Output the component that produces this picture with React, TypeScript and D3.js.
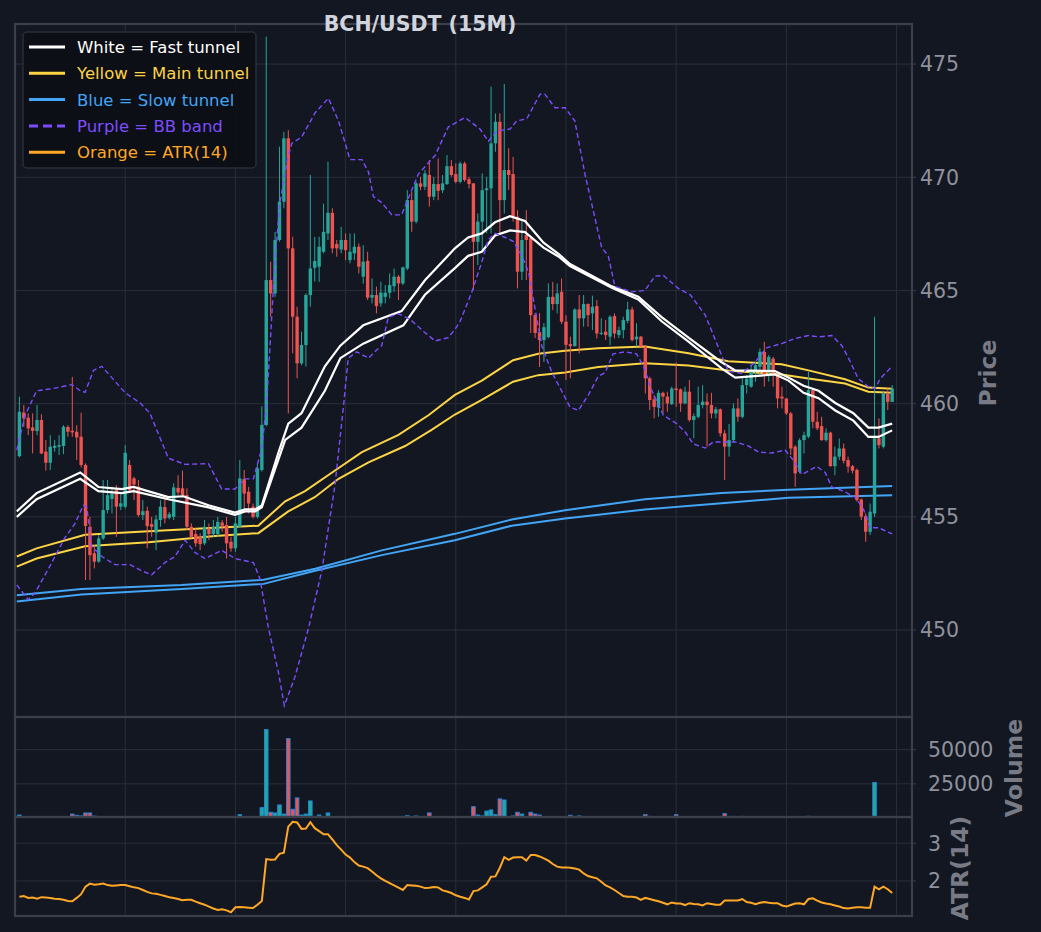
import React from "react";
import * as d3 from "d3";

// ---------- DATA ----------
const opens = [457.68,459.61,459.38,458.95,458.79,459.28,457.88,457.39,458.05,458.10,458.13,458.97,458.80,458.76,458.54,457.29,454.56,453.39,453.02,454.05,455.30,455.79,456.18,455.45,455.45,457.29,456.70,456.33,455.08,455.27,454.68,454.30,454.86,455.43,454.96,455.00,456.28,456.26,455.96,454.56,454.24,454.12,453.83,454.49,454.24,454.24,454.75,454.64,453.90,453.61,454.56,456.67,456.11,455.45,455.00,457.07,459.06,465.46,464.87,467.23,468.92,471.72,466.86,463.84,461.78,462.59,464.80,466.00,466.05,466.71,467.52,468.43,467.05,466.81,467.23,466.34,466.64,466.93,465.61,466.31,464.68,464.80,464.43,464.72,464.90,465.19,465.61,465.31,465.97,468.99,468.04,469.73,469.58,470.10,469.14,469.70,469.43,469.70,470.49,470.14,469.80,470.61,469.91,469.73,467.15,468.04,469.43,469.51,471.50,472.45,468.99,470.32,470.14,468.26,465.83,467.45,467.30,463.91,463.16,462.81,462.94,464.72,464.40,464.94,463.62,462.63,462.54,464.16,463.77,464.40,463.99,464.31,463.10,463.18,462.96,463.87,463.03,463.25,463.66,464.16,462.84,462.96,462.52,461.12,460.19,459.83,460.48,460.31,459.98,460.67,460.63,460.01,460.53,459.28,459.42,459.94,460.09,459.94,459.57,459.75,458.69,458.10,458.39,459.79,459.42,460.82,460.75,461.41,461.63,462.29,461.41,461.99,461.26,460.31,460.23,459.57,458.10,456.99,458.39,458.54,460.60,459.20,459.01,458.39,458.72,457.24,457.66,458.02,457.51,457.24,457.07,455.77,455.03,454.34,455.15,458.47,458.10,460.45,460.08];
const highs = [460.31,459.94,459.57,459.57,459.94,459.53,458.39,458.61,458.39,458.61,459.05,459.05,461.18,459.05,459.60,457.36,455.00,453.75,454.20,456.63,456.63,456.33,456.40,456.00,458.17,457.51,456.77,456.63,455.74,455.45,455.00,455.08,455.74,455.89,455.22,456.48,456.84,457.04,456.26,454.71,454.49,454.27,454.86,454.71,454.86,455.00,454.86,455.00,454.12,455.00,457.51,457.07,456.33,455.59,457.36,459.89,476.21,466.27,467.59,471.35,472.01,472.08,467.37,464.28,463.18,464.87,470.10,467.37,467.37,468.84,470.69,468.63,467.23,467.81,467.52,467.52,467.52,467.08,467.00,466.71,465.53,465.17,465.38,465.24,465.75,465.97,465.68,466.05,469.43,469.36,469.80,470.02,470.32,470.76,470.02,470.83,470.10,470.98,470.76,470.61,470.69,470.69,470.02,469.73,468.40,470.17,470.02,474.00,472.82,472.82,474.12,471.28,470.90,468.55,468.11,468.55,467.37,464.00,464.00,463.56,465.31,465.38,465.31,465.53,463.91,462.96,464.21,464.80,464.80,464.43,464.77,464.58,463.77,463.69,463.91,463.99,463.40,463.84,464.50,464.28,463.55,462.99,462.59,461.19,460.38,460.60,460.53,460.53,460.75,461.82,460.67,460.75,461.04,459.57,460.75,460.82,460.45,460.48,459.86,459.79,458.84,459.10,460.01,460.23,461.19,461.27,461.70,461.85,462.44,462.73,462.15,462.07,461.34,460.75,460.23,459.64,458.17,458.47,458.76,461.41,460.67,459.64,459.42,458.91,458.76,458.10,458.46,458.24,457.66,457.29,457.14,455.81,455.15,455.59,463.84,459.35,460.53,460.67,460.82];
const lows = [457.63,458.98,458.61,457.80,458.61,457.77,457.04,457.07,457.88,457.73,457.77,458.54,458.54,457.51,457.18,452.21,452.21,452.72,452.97,453.98,455.15,455.15,454.12,455.30,455.37,456.11,455.74,455.00,454.86,453.61,454.12,453.53,454.56,454.71,454.89,454.86,455.96,455.89,454.42,454.05,453.68,453.53,453.75,453.97,454.12,454.12,454.34,453.16,453.46,453.46,454.56,455.30,455.15,454.93,454.93,457.00,459.00,463.84,464.72,467.16,468.63,459.57,462.22,461.12,461.70,461.63,464.28,465.40,465.38,466.64,467.23,466.64,466.49,466.64,466.34,466.20,466.34,465.75,465.30,464.58,464.43,463.99,464.28,464.43,464.65,464.94,464.58,465.24,465.90,467.59,467.96,469.43,469.43,468.70,468.99,468.99,469.30,469.66,470.02,469.73,469.73,469.80,469.51,465.02,466.12,466.78,467.52,467.52,471.13,467.52,468.40,469.44,468.04,465.09,465.46,465.46,463.12,462.90,461.62,461.84,462.88,464.13,463.99,463.52,461.05,461.12,462.52,462.22,463.40,463.40,463.25,462.88,463.03,462.81,462.59,462.88,462.90,462.88,463.55,462.74,462.52,462.52,460.45,459.72,459.35,459.42,459.57,459.64,459.94,459.86,459.64,459.98,459.20,458.47,459.35,459.79,458.10,459.35,459.35,458.54,456.63,457.66,458.32,459.20,459.35,460.45,460.70,460.97,461.19,460.75,460.97,460.75,459.79,459.79,459.50,457.73,456.33,456.92,457.80,458.47,458.91,458.83,458.36,458.32,457.22,456.84,457.51,457.36,456.95,456.92,455.67,454.86,453.90,454.20,455.00,458.02,458.02,459.72,460.08];
const closes = [459.64,459.35,458.91,458.80,459.28,457.80,457.39,458.10,458.14,458.17,458.98,458.76,458.73,458.51,457.29,454.60,453.31,453.02,454.05,455.30,455.96,456.04,455.45,455.60,457.83,456.18,456.43,455.08,455.25,454.59,454.56,454.89,455.45,454.93,455.12,456.30,456.08,455.96,454.56,454.12,453.83,453.80,454.56,454.24,454.56,454.78,454.61,453.83,453.61,454.71,456.70,456.03,455.59,455.00,457.14,459.06,465.46,464.87,467.23,468.92,471.72,466.86,463.84,461.78,462.59,464.80,465.97,466.30,466.93,467.59,468.43,466.86,466.86,467.23,466.78,466.71,466.93,466.05,466.27,464.68,464.80,464.31,464.91,464.90,465.24,465.61,465.31,466.02,468.99,468.04,469.73,469.58,470.17,469.14,469.70,469.40,469.73,470.49,470.10,469.80,470.61,469.88,469.70,467.15,468.04,469.43,469.51,471.50,472.45,468.99,470.32,470.10,468.26,465.83,467.23,467.23,463.91,463.12,462.81,463.38,464.71,464.40,464.87,463.62,462.60,462.54,464.16,463.77,464.40,463.91,464.28,463.10,463.13,463.03,463.84,463.10,463.25,463.69,464.16,462.81,462.96,462.52,461.12,460.16,459.86,460.48,460.31,460.01,460.67,460.60,460.01,460.53,459.28,459.45,459.94,460.09,459.94,459.57,459.75,458.69,458.10,458.39,459.79,459.42,460.82,461.10,461.41,461.70,462.29,461.26,462.07,461.26,460.23,460.23,459.57,458.02,456.92,458.39,458.61,460.60,459.20,458.91,458.39,458.72,457.24,457.66,458.02,457.48,457.22,457.04,455.74,455.01,454.34,455.23,458.47,458.17,460.45,460.08,460.67];
const volumes = [2200,900,800,900,600,1000,900,500,300,700,400,800,2900,2000,1500,3700,3700,1400,1000,900,1000,600,900,900,500,400,300,800,500,400,300,400,500,300,1000,700,200,600,200,300,200,250,300,200,250,300,200,500,200,300,2450,700,300,600,1000,7600,64700,4200,3700,9560,2900,58100,6400,14700,2200,2900,12500,700,2200,600,3700,1000,400,300,400,800,500,300,600,700,400,300,700,300,400,300,400,500,1700,600,1500,500,400,3700,700,400,300,400,600,300,400,300,500,8300,2200,1500,5100,5900,2450,14000,13200,600,1500,4200,2900,700,4200,2900,2200,800,500,400,300,500,1000,2000,700,1500,400,300,500,300,200,300,400,300,500,300,600,300,400,300,2450,1200,300,400,500,300,400,2450,900,900,400,800,300,400,600,300,400,300,3200,400,1200,300,1200,400,400,300,300,800,300,200,300,200,300,400,300,400,600,1300,400,300,300,400,800,300,200,300,400,300,500,800,800,600,26000,400,600,400,300];
const atr = [1.58,1.60,1.55,1.56,1.53,1.57,1.56,1.55,1.53,1.52,1.50,1.47,1.46,1.55,1.65,1.85,1.93,1.90,1.91,1.93,1.89,1.87,1.88,1.89,1.89,1.86,1.83,1.81,1.76,1.71,1.67,1.66,1.63,1.60,1.57,1.55,1.52,1.49,1.50,1.50,1.45,1.41,1.37,1.32,1.27,1.23,1.25,1.22,1.17,1.30,1.31,1.30,1.29,1.28,1.37,1.47,2.58,2.56,2.57,2.72,2.75,3.44,3.57,3.55,3.38,3.39,3.56,3.40,3.32,3.24,3.24,3.10,2.95,2.83,2.70,2.62,2.50,2.41,2.38,2.34,2.25,2.15,2.07,2.00,1.94,1.88,1.82,1.76,1.89,1.88,1.87,1.85,1.81,1.82,1.84,1.83,1.75,1.72,1.68,1.62,1.58,1.55,1.51,1.73,1.75,1.83,1.91,2.11,2.12,2.35,2.63,2.56,2.62,2.63,2.63,2.54,2.69,2.69,2.65,2.60,2.54,2.45,2.38,2.36,2.36,2.35,2.33,2.30,2.20,2.13,2.10,2.07,1.98,1.88,1.83,1.76,1.68,1.60,1.58,1.58,1.56,1.50,1.55,1.52,1.49,1.46,1.42,1.38,1.43,1.40,1.40,1.36,1.41,1.39,1.38,1.35,1.41,1.39,1.37,1.37,1.48,1.48,1.48,1.48,1.52,1.44,1.42,1.38,1.42,1.44,1.42,1.41,1.41,1.35,1.32,1.36,1.40,1.41,1.38,1.52,1.54,1.48,1.43,1.40,1.38,1.35,1.32,1.28,1.27,1.29,1.30,1.30,1.29,1.29,1.85,1.78,1.85,1.78,1.68];

// indicator lines read at knots: [candle position, price]
const fastUpper: [number, number][] = [[0.4,455.24],[4.9,456.05],[14.8,456.96],[18.9,456.32],[24.2,456.23],[26.9,456.32],[34.8,455.87],[38.2,455.91],[43.9,455.51],[49.9,455.19],[52.2,455.33],[54.5,455.33],[56,455.51],[59.8,457.86],[62,459.12],[65,459.58],[70.3,461.65],[73.8,462.56],[79,463.46],[87.7,464.09],[93,465.45],[99.8,466.86],[102.8,467.34],[105.9,467.52],[108.9,468.01],[112.3,468.28],[115.7,468.07],[119.9,467.11],[123.3,466.62],[125.9,466.17],[135.4,465.18],[141.4,464.72],[146.7,463.82],[152.8,462.92],[160.3,461.83],[163.4,461.47],[172.4,461.44],[175.5,461.15],[178.9,460.79],[182.3,460.57],[186.1,460.03],[190.2,459.58],[193.6,458.94],[195.9,458.94],[199,459.12]];
const fastLower: [number, number][] = [[0.4,455.0],[4.9,455.78],[14.8,456.68],[18.9,456.14],[24.2,456.05],[26.9,456.14],[34.8,455.78],[43.9,455.42],[49.9,455.09],[52.2,455.24],[54.5,455.24],[56,455.42],[61.3,458.4],[65,458.94],[70.3,460.57],[73.8,462.01],[79,462.65],[88.1,463.46],[93,464.81],[99.8,465.99],[102.8,466.53],[105.9,466.71],[108.9,467.43],[112.3,467.65],[115.7,467.58],[119.9,466.89],[123.3,466.5],[125.9,466.08],[135.4,465.12],[141.4,464.6],[146.7,463.64],[152.8,462.74],[160.3,461.56],[163.4,461.15],[172.4,461.29],[175.5,461.02],[178.9,460.48],[182.3,460.24],[186.1,459.7],[190.2,459.25],[193.6,458.53],[195.9,458.53],[199,458.82]];
const mainUpper: [number, number][] = [[0.4,453.25],[4.9,453.61],[15.9,454.21],[30.3,454.37],[45.4,454.52],[55.2,454.61],[61.3,455.69],[65.8,456.14],[72.6,457.05],[78.7,457.86],[87,458.62],[93.8,459.49],[99.8,460.39],[105.9,461.02],[113,461.92],[118.7,462.2],[124.8,462.34],[132.3,462.45],[142.9,462.52],[152.8,462.23],[161.8,461.87],[173.9,461.74],[180,461.47],[188.3,461.08],[193.6,460.71],[199,460.66]];
const mainLower: [number, number][] = [[0.4,452.8],[4.9,453.16],[15.9,453.7],[30.3,453.88],[45.4,454.16],[55.2,454.28],[62,455.24],[68,455.87],[73.4,456.68],[80.2,457.41],[88.5,458.13],[94.6,458.85],[99.8,459.52],[105.9,460.17],[113,460.97],[118.7,461.26],[124.8,461.38],[132.3,461.62],[142.9,461.78],[152.8,461.69],[161.8,461.47],[173.9,461.29],[180,461.11],[188.3,460.89],[193.6,460.53],[199,460.48]];
const slowUpper: [number, number][] = [[0.4,451.54],[15.1,451.81],[37.8,451.99],[56.4,452.22],[68.1,452.71],[83.2,453.52],[99.8,454.25],[112.7,454.88],[124.8,455.29],[142.9,455.78],[160.3,456.05],[175.5,456.2],[199,456.36]];
const slowLower: [number, number][] = [[0.4,451.26],[15.1,451.57],[37.8,451.81],[56.4,452.04],[68.1,452.62],[83.2,453.31],[99.8,453.97],[112.7,454.61],[124.8,454.93],[142.9,455.33],[160.3,455.6],[175.5,455.84],[199,455.96]];
const bbUpper: [number, number][] = [[0.4,457.95],[2.3,459.49],[4.9,460.57],[8.3,460.66],[12.9,460.84],[14.8,460.57],[15.9,460.5],[17.8,461.47],[19.7,461.65],[25,460.48],[28.4,460.03],[30.6,459.58],[34.8,457.59],[38.6,457.32],[43.9,457.35],[46.9,456.23],[49.9,456.23],[52.2,456.68],[54.1,456.68],[56,458.04],[57.1,460.03],[59,466.35],[60.1,468.88],[61.7,470.69],[62.8,471.5],[65,471.77],[68.1,472.85],[71.1,473.49],[73.4,472.49],[76,470.78],[78.7,470.78],[80.2,470.23],[81.3,469.15],[83.2,468.88],[85.5,468.34],[87.7,468.34],[91.5,470.14],[95.3,470.96],[98.3,472.22],[102.1,472.64],[105.5,472.13],[107.4,471.59],[109.3,472.04],[112.3,472.13],[113.8,472.49],[116.1,472.58],[119.1,473.67],[120.2,473.67],[122.5,473.07],[124.8,473.07],[127,472.49],[129.3,470.14],[131.2,468.52],[133.1,466.89],[134.6,466.53],[136.1,465.18],[139.9,464.94],[142.9,465.0],[145.2,465.63],[147.1,465.66],[150.5,465.09],[153.2,464.81],[156.6,463.91],[159.6,462.47],[161.8,461.44],[164.9,461.33],[167.9,461.83],[170.5,462.47],[173.9,462.65],[177,462.88],[180,463.01],[182.3,462.95],[185.3,463.01],[187.6,462.56],[189.1,462.01],[191.3,461.11],[193.6,460.75],[195.1,460.66],[196.3,461.11],[199,461.65]];
const bbLower: [number, number][] = [[0.4,451.99],[3,451.35],[4.5,451.63],[7.6,452.71],[11.3,454.07],[13.6,454.7],[15.5,455.51],[16.3,455.42],[17.4,453.7],[19.7,453.25],[22.7,452.89],[26.1,452.89],[28.7,452.62],[31,452.44],[34,452.98],[36.3,453.25],[38.6,453.97],[40.8,453.43],[43.1,453.16],[46.9,453.52],[49.9,453.16],[54.1,452.98],[55.6,452.26],[57.5,450.09],[59.8,448.1],[61.1,446.66],[63.5,447.92],[66.6,450.09],[69.6,452.62],[72.6,456.41],[74.5,459.85],[75.6,462.01],[77.5,462.29],[80.2,462.01],[82.1,462.38],[83.2,462.56],[84.7,463.82],[87,463.97],[89.6,463.73],[92.7,463.19],[95.3,462.77],[98.3,462.92],[99.8,463.28],[101,463.64],[103.6,464.91],[105.9,466.26],[107.4,467.25],[108.9,467.52],[111.2,467.34],[113.1,467.16],[115,466.53],[116.5,465.81],[118,464.18],[119.5,462.56],[121.8,461.38],[124,460.57],[125.9,459.85],[127.8,459.7],[130.1,460.39],[132.3,461.2],[133.9,461.38],[135.7,462.2],[138.4,462.29],[141,462.2],[142.6,461.65],[144.5,460.57],[147.1,459.49],[150.1,459.12],[152,458.76],[153.9,458.22],[156.6,458.04],[158.4,458.31],[161.1,458.31],[163.4,458.31],[166.4,458.13],[168.7,457.86],[171.7,457.82],[174.7,457.95],[176.6,457.5],[178.5,456.87],[181.9,457.23],[183.8,456.96],[185.3,456.32],[187.9,456.14],[190.6,455.87],[192.5,455.33],[194,454.52],[195.9,454.52],[199,454.25]];

const priceTicks = [450, 455, 460, 465, 470, 475];
const volumeTicks = [25000, 50000];
const atrTicks = [2, 3];
const timeGrid = [25, 50, 75, 100, 125, 150, 175, 200];
const legendItems = [
  { label: "White = Fast tunnel", color: "#ffffff", dashed: false },
  { label: "Yellow = Main tunnel", color: "#fdd444", dashed: false },
  { label: "Blue = Slow tunnel", color: "#42a5f5", dashed: false },
  { label: "Purple = BB band", color: "#7c4dff", dashed: true },
  { label: "Orange = ATR(14)", color: "#ffa726", dashed: false },
];

// ---------- LAYOUT ----------
const W = 1041, H = 932;
const L = 15, R = 912;
const mainTop = 24, mainBot = 717;
const volTop = 717, volBot = 817;
const atrTop = 817, atrBot = 916;
const BG = "#131722";
const GRID = "#2a2e39";
const SPINE = "#3b3f4a";
const UP = "#26a69a", DOWN = "#ef5350";
const TICK = "#8f929b", LABEL = "#787b86";
const FONT = "DejaVu Sans, Verdana, sans-serif";

export default function App() {
  const x = d3.scaleLinear().domain([0, 203.5]).range([L, R]);
  const y = d3.scaleLinear().domain([446.16, 476.77]).range([mainBot, mainTop]);
  const yv = d3.scaleLinear().domain([0, 73200]).range([818, volTop + 1]);
  const ya = d3.scaleLinear().domain([1.07, 3.67]).range([atrBot, atrTop + 1]);

  const knotLine = d3.line<[number, number]>().x((d) => x(d[0])).y((d) => y(d[1]));
  const atrLine = d3.line<number>().x((_, i) => x(i + 1)).y((d) => ya(d));

  const bw = 3.4;

  return (
    <svg width={W} height={H} style={{ position: "absolute", left: 0, top: 0, display: "block", background: BG }} fontFamily={FONT}>
      <defs>
        <clipPath id="cMain"><rect x={L} y={mainTop} width={R - L} height={mainBot - mainTop} /></clipPath>
        <clipPath id="cVol"><rect x={L} y={volTop} width={R - L} height={volBot - volTop} /></clipPath>
        <clipPath id="cAtr"><rect x={L} y={atrTop} width={R - L} height={atrBot - atrTop} /></clipPath>
      </defs>
      <rect x={0} y={0} width={W} height={H} fill={BG} />

      {/* grid */}
      <g stroke={GRID} strokeWidth={1}>
        {timeGrid.map((t) => (
          <g key={t}>
            <line x1={x(t)} x2={x(t)} y1={mainTop} y2={mainBot} />
            <line x1={x(t)} x2={x(t)} y1={volTop} y2={volBot} />
            <line x1={x(t)} x2={x(t)} y1={atrTop} y2={atrBot} />
          </g>
        ))}
        {priceTicks.map((p) => <line key={p} x1={L} x2={R} y1={y(p)} y2={y(p)} />)}
        {volumeTicks.map((v) => <line key={v} x1={L} x2={R} y1={yv(v)} y2={yv(v)} />)}
        {atrTicks.map((v) => <line key={v} x1={L} x2={R} y1={ya(v)} y2={ya(v)} />)}
      </g>

      {/* main panel */}
      <g clipPath="url(#cMain)">
        <path d={knotLine(slowUpper) || ""} fill="none" stroke="#42a5f5" strokeWidth={2} />
        <path d={knotLine(slowLower) || ""} fill="none" stroke="#42a5f5" strokeWidth={2} />
        <path d={knotLine(mainUpper) || ""} fill="none" stroke="#fdd444" strokeWidth={2} />
        <path d={knotLine(mainLower) || ""} fill="none" stroke="#fdd444" strokeWidth={2} />
        {opens.map((o, k) => {
          const c = closes[k];
          const col = c >= o ? UP : DOWN;
          const cx = x(k + 1);
          const top = y(Math.max(o, c));
          const bot = y(Math.min(o, c));
          return (
            <g key={k}>
              <line x1={cx} x2={cx} y1={y(highs[k])} y2={y(lows[k])} stroke={col} strokeWidth={1} />
              <rect x={cx - bw / 2} y={top} width={bw} height={Math.max(bot - top, 1)} fill={col} />
            </g>
          );
        })}
        <path d={knotLine(fastUpper) || ""} fill="none" stroke="#ffffff" strokeWidth={2.2} />
        <path d={knotLine(fastLower) || ""} fill="none" stroke="#ffffff" strokeWidth={2.2} />
        <path d={knotLine(bbUpper) || ""} fill="none" stroke="#7c4dff" strokeWidth={1.4} strokeDasharray="5,3" />
        <path d={knotLine(bbLower) || ""} fill="none" stroke="#7c4dff" strokeWidth={1.4} strokeDasharray="5,3" />
      </g>

      {/* volume panel */}
      <g clipPath="url(#cVol)">
        {volumes.map((v, k) => {
          const col = closes[k] >= opens[k] ? UP : DOWN;
          const cx = x(k + 1);
          return (
            <rect key={k} x={cx - 1.8} y={yv(v)} width={3.6} height={Math.max(yv(0) - yv(v), 0.3)} fill={col} stroke="#1e88e5" strokeWidth={0.9} />
          );
        })}
      </g>

      {/* ATR panel */}
      <g clipPath="url(#cAtr)">
        <path d={atrLine(atr) || ""} fill="none" stroke="#ffa726" strokeWidth={2} />
      </g>

      {/* spines */}
      <g fill="none" stroke={SPINE} strokeWidth={2.2}>
        <rect x={L} y={mainTop} width={R - L} height={mainBot - mainTop} />
        <rect x={L} y={volTop} width={R - L} height={volBot - volTop} />
        <rect x={L} y={atrTop} width={R - L} height={atrBot - atrTop} />
      </g>

      {/* ticks */}
      <g fill={TICK} fontSize={20.5}>
        {priceTicks.map((p) => (
          <g key={p}>
            <line x1={R} x2={R + 4} y1={y(p)} y2={y(p)} stroke={SPINE} />
            <text x={R + 8} y={y(p)} dy="0.36em">{p}</text>
          </g>
        ))}
        {volumeTicks.map((v) => (
          <g key={v}>
            <line x1={R} x2={R + 4} y1={yv(v)} y2={yv(v)} stroke={SPINE} />
            <text x={R + 16} y={yv(v)} dy="0.36em">{v}</text>
          </g>
        ))}
        {atrTicks.map((v) => (
          <g key={v}>
            <line x1={R} x2={R + 4} y1={ya(v)} y2={ya(v)} stroke={SPINE} />
            <text x={R + 16} y={ya(v)} dy="0.36em">{v}</text>
          </g>
        ))}
      </g>

      {/* axis labels */}
      <g fill={LABEL} fontSize={23.5} fontWeight="bold" textAnchor="middle">
        <text transform={`translate(988,373) rotate(-90)`} dy="0.36em">Price</text>
        <text transform={`translate(1014,768) rotate(-90)`} dy="0.36em">Volume</text>
        <text transform={`translate(960,868) rotate(-90)`} dy="0.36em">ATR(14)</text>
      </g>

      {/* title */}
      <text x={420} y={24} dy="0.35em" textAnchor="middle" fill="#d1d4dc" fontSize={20.5} fontWeight="bold">BCH/USDT (15M)</text>

      {/* legend */}
      <g>
        <rect x={23} y={32} width={233} height={136} rx={4} fill="#0c0f15" fillOpacity={0.92} stroke="#2a2e39" strokeWidth={1.5} />
        {legendItems.map((it, k) => {
          const ly = 47 + k * 26.3;
          return (
            <g key={it.label}>
              <line x1={29} x2={65} y1={ly} y2={ly} stroke={it.color} strokeWidth={3} strokeDasharray={it.dashed ? "9,5" : undefined} />
              <text x={77} y={ly} dy="0.36em" fill={it.color} fontSize={16.5}>{it.label}</text>
            </g>
          );
        })}
      </g>
    </svg>
  );
}
